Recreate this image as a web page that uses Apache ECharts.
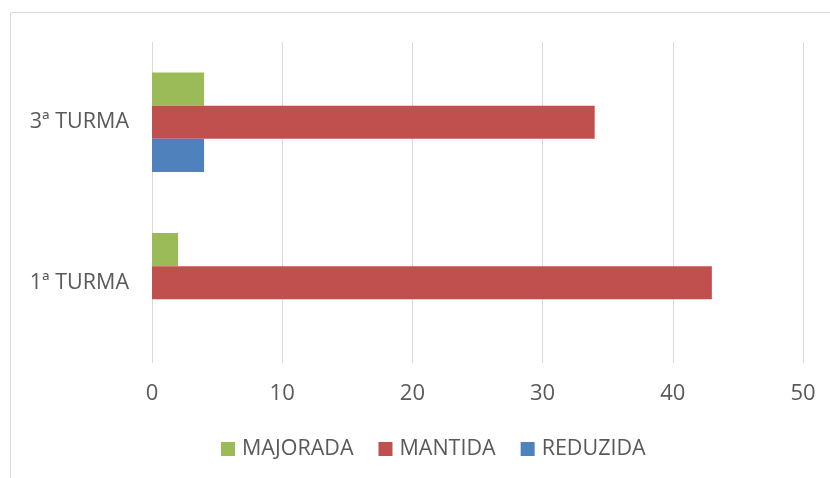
<!DOCTYPE html>
<html><head><meta charset="utf-8">
<script src="https://cdn.jsdelivr.net/npm/echarts@6/dist/echarts.min.js"></script>
<style>html,body{margin:0;padding:0;background:#fff}#c{width:830px;height:478px}</style>
</head><body><div id="c"></div>
<script>
const categories = ['1ª TURMA', '3ª TURMA'];
const majorada = [2, 4];
const mantida = [43, 34];
const reduzida = [0, 4];
const xTicks = { min: 0, max: 50, interval: 10 };

const chart = echarts.init(document.getElementById('c'), null, { renderer: 'canvas' });
const font = 'Open Sans';
chart.setOption({
  animation: false,
  backgroundColor: '#fff',
  graphic: [{ type: 'rect', shape: { x: 10.5, y: 12.5, width: 900, height: 600 }, style: { fill: 'none', stroke: '#d9d9d9', lineWidth: 1 }, silent: true }],
  grid: { left: 152, right: 27, top: 42, bottom: 115, containLabel: false },
  legend: {
    top: 433, left: 216, itemWidth: 14, itemHeight: 14, itemGap: 25,
    icon: 'rect',
    textStyle: { fontFamily: font, fontSize: 21.5, color: '#595959', padding: [0, 0, 0, 2] },
    data: ['MAJORADA', 'MANTIDA', 'REDUZIDA']
  },
  xAxis: {
    type: 'value', min: xTicks.min, max: xTicks.max, interval: xTicks.interval,
    axisLine: { show: false }, axisTick: { show: false },
    axisLabel: { fontFamily: font, fontSize: 22, color: '#595959', margin: 20 },
    splitLine: { lineStyle: { color: '#d9d9d9', width: 1 } }
  },
  yAxis: {
    type: 'category', data: categories,
    axisLine: { show: false }, axisTick: { show: false },
    axisLabel: { fontFamily: font, fontSize: 21.5, color: '#595959', margin: 23 }
  },
  series: [
    { name: 'MAJORADA', type: 'bar', data: majorada, itemStyle: { color: '#9BBB59' }, barGap: '0%', barCategoryGap: '38%' },
    { name: 'MANTIDA', type: 'bar', data: mantida, itemStyle: { color: '#C0504D' }, barGap: '0%', barCategoryGap: '38%' },
    { name: 'REDUZIDA', type: 'bar', data: reduzida, itemStyle: { color: '#4F81BD' }, barGap: '0%', barCategoryGap: '38%' }
  ]
});
</script></body></html>
